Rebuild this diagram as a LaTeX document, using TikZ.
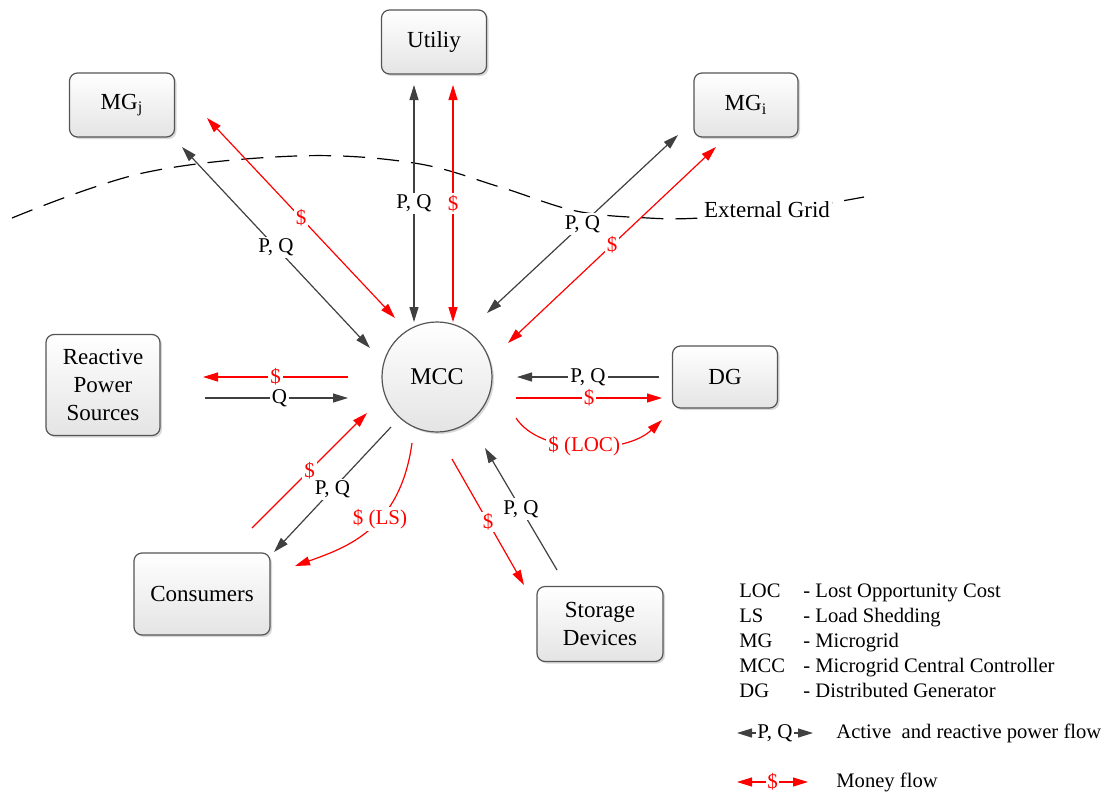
\documentclass[tikz,border=0pt]{standalone}
\usepackage{fontspec}
\setmainfont{Liberation Serif}
\usetikzlibrary{arrows.meta,shadows}
\definecolor{flowgray}{HTML}{404040}
\definecolor{flowred}{HTML}{FF0000}
\definecolor{boxedge}{HTML}{555555}
\definecolor{boxfill}{HTML}{E4E4E4}

\begin{document}
\begin{tikzpicture}[x=0.5pt,y=-0.5pt,
  box/.style={draw=boxedge,line width=0.6pt,rounded corners=4pt,top color=white,bottom color=boxfill,
    drop shadow={shadow xshift=1pt,shadow yshift=-1pt,opacity=0.3},align=center,inner sep=2pt,
    font=\fontsize{11.5}{14}\selectfont},
  pq/.style={draw=flowgray,line width=0.6pt},
  cash/.style={color=flowred,line width=0.6pt},
  lbl/.style={fill=white,inner sep=1pt,font=\fontsize{10.5}{12}\selectfont},
  legtxt/.style={inner sep=0pt,anchor=base west,font=\fontsize{10.3}{12}\selectfont},
  >={Triangle[length=7.5pt,width=4.5pt]}]
\useasboundingbox (0,0) rectangle (1109,793);

% external grid boundary
\draw[line width=0.6pt,dash pattern=on 11pt off 6pt] plot[smooth,tension=0.6] coordinates
  {(12,218) (143,173) (296,156) (414,163) (500,187) (576,211) (648,218) (700,218) (780,211) (864,197)};
\node[fill=white,inner sep=1pt,font=\fontsize{11.5}{14}\selectfont] (extgrid) at (767,210) {External Grid};

% blocks
\node[box,circle,minimum size=55pt,font=\fontsize{12}{14}\selectfont] (mcc) at (437,377) {MCC};
\node[box,minimum width=52.5pt,minimum height=32pt] (util) at (434,42) {Utiliy};
\node[box,minimum width=52.5pt,minimum height=32pt] (mgj) at (122,105) {MG\textsubscript{j}};
\node[box,minimum width=52pt,minimum height=32pt] (mgi) at (746,105) {MG\textsubscript{i}};
\node[box,minimum width=57pt,minimum height=50.5pt] (rps) at (103,385) {Reactive\\Power\\Sources};
\node[box,minimum width=52.5pt,minimum height=31pt] (dg) at (725,377) {DG};
\node[box,minimum width=68pt,minimum height=41pt] (cons) at (202,594) {Consumers};
\node[box,minimum width=63pt,minimum height=37.5pt] (stor) at (600,624) {Storage\\Devices};

% arrow ends
\coordinate (u1) at (414,85);  \coordinate (u2) at (414,322);
\coordinate (u3) at (453,85);  \coordinate (u4) at (453,322);
\coordinate (j1) at (182,147); \coordinate (j2) at (370,348);
\coordinate (j3) at (207,118); \coordinate (j4) at (395,318);
\coordinate (i1) at (487,313); \coordinate (i2) at (678,135);
\coordinate (i3) at (508,343); \coordinate (i4) at (716,147);
\coordinate (r1) at (348,377); \coordinate (r2) at (203,377);
\coordinate (r3) at (205,398); \coordinate (r4) at (348,398);
\coordinate (d1) at (659,377); \coordinate (d2) at (517,377);
\coordinate (d3) at (516,398); \coordinate (d4) at (662,398);
\coordinate (d5) at (516,418); \coordinate (d6) at (662,420);
\coordinate (c1) at (252,528); \coordinate (c2) at (367,413);
\coordinate (c3) at (391,427); \coordinate (c4) at (274,552);
\coordinate (c5) at (412,443); \coordinate (c6) at (295,566);
\coordinate (s1) at (557,570); \coordinate (s2) at (485,448);
\coordinate (s3) at (452,459); \coordinate (s4) at (524,585);

% power and money flows
\draw[pq,<->] (u1) -- node[lbl]{P, Q} (u2);
\draw[cash,<->] (u3) -- node[lbl]{\$} (u4);
\draw[pq,<->] (j1) -- node[lbl]{P, Q} (j2);
\draw[cash,<->] (j3) -- node[lbl]{\$} (j4);
\draw[pq,<->] (i1) -- node[lbl]{P, Q} (i2);
\draw[cash,<->] (i3) -- node[lbl]{\$} (i4);
\draw[cash,->] (r1) -- node[lbl]{\$} (r2);
\draw[pq,->] (r3) -- node[lbl,pos=0.52]{Q} (r4);
\draw[pq,->] (d1) -- node[lbl]{P, Q} (d2);
\draw[cash,->] (d3) -- node[lbl]{\$} (d4);
\draw[cash,->] (d5) .. controls (540,455) and (625,455) .. node[lbl]{\$ (LOC)} (d6);
\draw[cash,->] (c1) -- node[lbl]{\$} (c2);
\draw[pq,->] (c3) -- node[lbl]{P, Q} (c4);
\draw[cash,->] (c5) .. controls (400,530) and (345,548) .. node[lbl,pos=0.4]{\$ (LS)} (c6);
\draw[pq,->] (s1) -- node[lbl]{P, Q} (s2);
\draw[cash,->] (s3) -- node[lbl]{\$} (s4);

% legend
\foreach \ab/\txt [count=\i] in {LOC/Lost Opportunity Cost,LS/Load Shedding,MG/Microgrid,
    MCC/Microgrid Central Controller,DG/Distributed Generator}{
  \node[legtxt] (ab\i) at (739,573+24.8*\i) {\ab};
  \node[legtxt] (de\i) at (803,573+24.8*\i) {- \txt};
}
\coordinate (lp1) at (737,733); \coordinate (lp2) at (813,733);
\coordinate (lm1) at (737,782); \coordinate (lm2) at (808,782);
\draw[pq,<->] (lp1) -- node[lbl,inner sep=0.5pt]{P, Q} (lp2);
\draw[cash,<->] (lm1) -- node[lbl,inner sep=0.5pt]{\$} (lm2);
\node[legtxt,anchor=west] (lpq) at (836,733) {Active\ \ and reactive power flow};
\node[legtxt,anchor=west] (lmoney) at (836,782) {Money flow};
\end{tikzpicture}
\end{document}
